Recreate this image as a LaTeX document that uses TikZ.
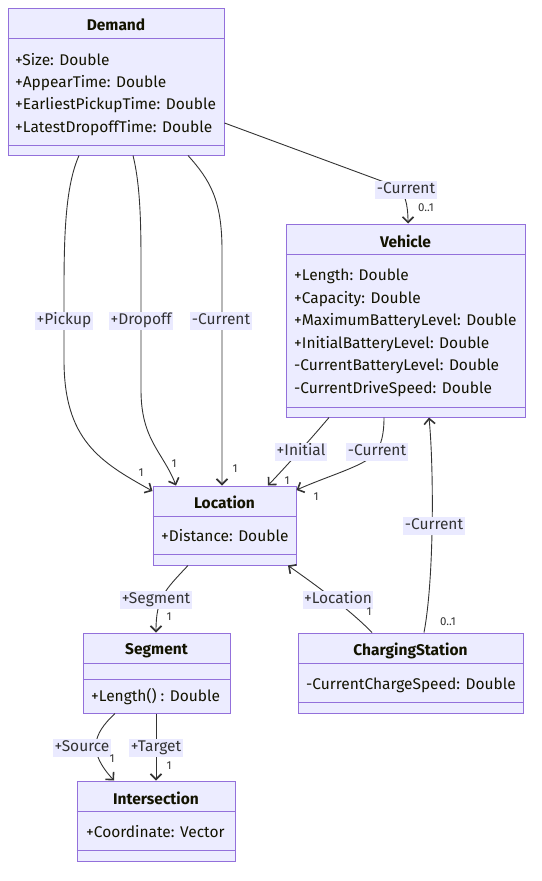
\documentclass[tikz,border=0pt]{standalone}
\usepackage{fontspec}
\setmainfont{Fira Sans}
\usepackage{xcolor}
\usetikzlibrary{arrows.meta}
\definecolor{classfill}{HTML}{ECECFF}
\definecolor{classdraw}{HTML}{9370DB}
\definecolor{edgecol}{HTML}{333333}
\definecolor{labelfill}{HTML}{EAEAFF}
\definecolor{textcol}{HTML}{131300}

\begin{document}
\begin{tikzpicture}[x=1pt,y=-1pt,
	font=\fontsize{15.5}{18}\selectfont,
	cls/.style={draw=classdraw,fill=classfill,line width=1pt,inner sep=0pt},
	sep/.style={draw=classdraw,line width=1pt},
	title/.style={font=\fontsize{15.5}{18}\selectfont\bfseries,text=textcol,inner sep=0pt,yshift=-1pt},
	attr/.style={anchor=west,inner sep=0pt,text=textcol,text height=11pt,text depth=3.5pt,yshift=-1.5pt},
	lbl/.style={fill=labelfill,text=edgecol,inner sep=1.5pt,text height=10.5pt,text depth=4pt},
	mult/.style={font=\fontsize{11.5}{13}\selectfont,text=edgecol,inner sep=0pt},
	assoc/.style={draw=edgecol,line width=0.9pt,-{Straight Barb[length=5.5pt,width=11pt,line width=1.6pt]}}]
		\useasboundingbox (0,0) rectangle (541,881);
		% classes
		\node[cls,minimum width=216pt,minimum height=147pt] (D) at (116,81.5) {};
		\node[cls,minimum width=239pt,minimum height=193pt] (V) at (405.5,320.5) {};
		\node[cls,minimum width=143pt,minimum height=79pt] (L) at (224.5,525.5) {};
		\node[cls,minimum width=147pt,minimum height=80pt] (S) at (156.5,673) {};
		\node[cls,minimum width=225pt,minimum height=80pt] (C) at (410.5,673) {};
		\node[cls,minimum width=158pt,minimum height=80pt] (I) at (156,821) {};
		%
		\draw[sep] (D.west |- 0,38) -- (D.east |- 0,38);
		\draw[sep] (D.west |- 0,145) -- (D.east |- 0,145);
		\draw[sep] (V.west |- 0,254) -- (V.east |- 0,254);
		\draw[sep] (V.west |- 0,407) -- (V.east |- 0,407);
		\draw[sep] (L.west |- 0,516) -- (L.east |- 0,516);
		\draw[sep] (L.west |- 0,554) -- (L.east |- 0,554);
		\draw[sep] (S.west |- 0,663) -- (S.east |- 0,663);
		\draw[sep] (S.west |- 0,679) -- (S.east |- 0,679);
		\draw[sep] (C.west |- 0,663) -- (C.east |- 0,663);
		\draw[sep] (C.west |- 0,702) -- (C.east |- 0,702);
		\draw[sep] (I.west |- 0,811) -- (I.east |- 0,811);
		\draw[sep] (I.west |- 0,850) -- (I.east |- 0,850);
		%
		\node[title] (Dt) at (116,24) {Demand};
		\node[attr] (D1) at (15,60) {+Size: Double};
		\node[attr] (D2) at (15,82) {+AppearTime: Double};
		\node[attr] (D3) at (15,104.5) {+EarliestPickupTime: Double};
		\node[attr] (D4) at (15,127) {+LatestDropoffTime: Double};
		%
		\node[title] (Vt) at (405.5,240.5) {Vehicle};
		\node[attr] (V1) at (294,275.5) {+Length: Double};
		\node[attr] (V2) at (294,298) {+Capacity: Double};
		\node[attr] (V3) at (294,320.5) {+MaximumBatteryLevel: Double};
		\node[attr] (V4) at (294,343) {+InitialBatteryLevel: Double};
		\node[attr] (V5) at (294,365.5) {-CurrentBatteryLevel: Double};
		\node[attr] (V6) at (294,388) {-CurrentDriveSpeed: Double};
		%
		\node[title] (Lt) at (224.5,501.5) {Location};
		\node[attr] (L1) at (161,536.5) {+Distance: Double};
		%
		\node[title] (St) at (156.5,649.5) {Segment};
		\node[attr] (S1) at (91,696.5) {+Length() : Double};
		%
		\node[title] (Ct) at (410.5,649.5) {ChargingStation};
		\node[attr] (C1) at (306,684.5) {-CurrentChargeSpeed: Double};
		%
		\node[title] (It) at (156,797.5) {Intersection};
		\node[attr] (I1) at (86,832.5) {+Coordinate: Vector};
		% associations
		\draw[assoc] (D.east |- 0,123) -- (395,186) .. controls (405,190) and (408,205) .. (V.north -| 408,0);
		\draw[assoc] (D.south -| 79,0) .. controls (66,185) and (64,230) .. (64,290) -- (64,360) .. controls (64,440) and (100,462) .. (L.west |- 0,491);
		\draw[assoc] (D.south -| 133,0) .. controls (139,180) and (141,210) .. (141,260) -- (141,390) .. controls (141,440) and (163,452) .. (L.north -| 176,0);
		\draw[assoc] (D.south -| 188,0) .. controls (210,180) and (222,200) .. (222,250) -- (L.north -| 222,0);
		\draw[assoc] (V.south -| 329,0) .. controls (310,440) and (290,462) .. (L.north -| 268,0);
		\draw[assoc] (V.south -| 384,0) .. controls (384,435) and (381,445) .. (376,452) .. controls (368,465) and (330,475) .. (L.east |- 0,490);
		\draw[assoc] (C.north -| 424,0) .. controls (434,580) and (434,470) .. (V.south -| 429,0);
		\draw[assoc] (L.south -| 188,0) .. controls (165,590) and (156,598) .. (S.north -| 156,0);
		\draw[assoc] (C.north -| 372,0) .. controls (355,615) and (330,595) .. (L.south -| 288,0);
		\draw[assoc] (S.south -| 115,0) .. controls (92,735) and (88,752) .. (I.north -| 114,0);
		\draw[assoc] (S.south -| 156,0) -- (I.north -| 156,0);
		%
		\node[lbl] (lDV) at (406,190) {-Current};
		\node[lbl] (lPick) at (64,321) {+Pickup};
		\node[lbl] (lDrop) at (141,321) {+Dropoff};
		\node[lbl] (lDL) at (221,321) {-Current};
		\node[lbl] (lInit) at (301,452) {+Initial};
		\node[lbl] (lVL) at (377,452) {-Current};
		\node[lbl] (lCV) at (434,526) {-Current};
		\node[lbl] (lSeg) at (156,600) {+Segment};
		\node[lbl] (lLoc) at (338,600) {+Location};
		\node[lbl] (lSrc) at (82,748) {+Source};
		\node[lbl] (lTgt) at (156,748) {+Target};
		%
		\node[mult] (mDV) at (426,208) {0..1};
		\node[mult] (mPick) at (141,473) {1};
		\node[mult] (mDrop) at (174,464) {1};
		\node[mult] (mDL) at (235,469) {1};
		\node[mult] (mInit) at (287,481) {1};
		\node[mult] (mVL) at (316,497) {1};
		\node[mult] (mSeg) at (169,617) {1};
		\node[mult] (mLoc) at (369,612) {1};
		\node[mult] (mCV) at (448,622) {0..1};
		\node[mult] (mSrc) at (112,759) {1};
		\node[mult] (mTgt) at (169,766) {1};
	\end{tikzpicture}
\end{document}
